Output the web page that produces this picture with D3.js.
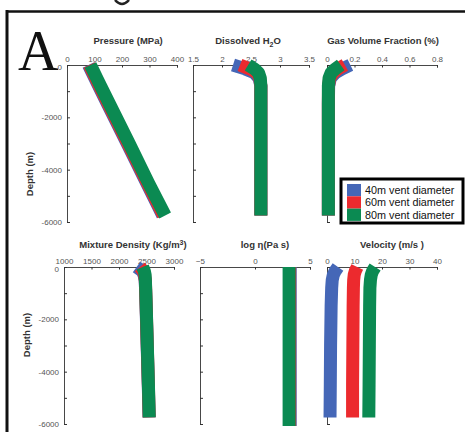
<!DOCTYPE html>
<html><head><meta charset="utf-8">
<script src="https://cdn.jsdelivr.net/npm/d3@7"></script>
<style>body{margin:0;background:#fff}svg{display:block}</style>
</head><body>
<svg id="c" width="465" height="432"></svg>
<script>
// ---------- data ----------
const depth = [0, -150, -300, -500, -800, -1500, -3000, -4500, -5750];
const depthVisc = [0, -6080];
const seriesNames = ["40m vent diameter", "60m vent diameter", "80m vent diameter"];
const seriesColors = ["#4567b7", "#ec2a2e", "#0b8a52"];

const pressure40 = [78, 85, 92, 101, 115, 148, 219, 289, 348];
const pressure60 = [81, 88, 95, 104, 118, 151, 222, 292, 351];
const pressure80 = [85, 92, 99, 108, 122, 155, 226, 296, 357];

const h2o40 = [2.19, 2.40, 2.56, 2.64, 2.67, 2.67, 2.67, 2.67, 2.67];
const h2o60 = [2.31, 2.48, 2.60, 2.65, 2.67, 2.67, 2.67, 2.67, 2.67];
const h2o80 = [2.45, 2.56, 2.63, 2.66, 2.67, 2.67, 2.67, 2.67, 2.67];

const gas40 = [0.17, 0.11, 0.06, 0.025, 0.012, 0.01, 0.01, 0.01, 0.01];
const gas60 = [0.13, 0.08, 0.045, 0.02, 0.011, 0.01, 0.01, 0.01, 0.01];
const gas80 = [0.10, 0.06, 0.03, 0.015, 0.01, 0.01, 0.01, 0.01, 0.01];

const density40 = [2320, 2420, 2455, 2475, 2482, 2492, 2512, 2532, 2547];
const density60 = [2380, 2440, 2465, 2478, 2484, 2494, 2514, 2534, 2549];
const density80 = [2430, 2460, 2475, 2480, 2485, 2495, 2515, 2535, 2550];

const visc40 = [3.2, 3.2];
const visc60 = [3.15, 3.15];
const visc80 = [3.1, 3.1];

const velocity40 = [4.0, 3.0, 2.3, 1.9, 1.7, 1.5, 1.3, 1.2, 1.1];
const velocity60 = [11.0, 10.3, 9.9, 9.7, 9.6, 9.5, 9.4, 9.3, 9.3];
const velocity80 = [17.5, 16.6, 16.1, 15.8, 15.6, 15.5, 15.4, 15.3, 15.2];

const depthTicks = [0, -1000, -2000, -3000, -4000, -5000, -6000];
const pressureTicks = [0, 100, 200, 300, 400];
const h2oTicks = [1.5, 2, 2.5, 3, 3.5];
const gasTicks = [0, 0.2, 0.4, 0.6, 0.8];
const densityTicks = [1000, 1500, 2000, 2500, 3000];
const viscTicks = [-5, 0, 5];
const velocityTicks = [0, 10, 20, 30, 40];

// ---------- drawing ----------
const svg = d3.select("#c");
const FONT = "Liberation Sans, Arial, sans-serif";

// frame
svg.append("line").attr("x1", 6).attr("x2", 465).attr("y1", 11.5).attr("y2", 11.5)
  .attr("stroke", "#111").attr("stroke-width", 2.5);
svg.append("line").attr("x1", 7).attr("x2", 7).attr("y1", 10).attr("y2", 432)
  .attr("stroke", "#111").attr("stroke-width", 3);
// cropped glyph remnant at the top edge
svg.append("path").attr("d", "M115,0 Q122,8 129,0").attr("fill", "none")
  .attr("stroke", "#222").attr("stroke-width", 2.5);

svg.append("text").attr("x", 18).attr("y", 70).attr("font-family", "Liberation Serif, Times New Roman, serif")
  .attr("font-size", 56).attr("fill", "#111").text("A");

function panel(opt) {
  const x = d3.scaleLinear().domain(opt.domain).range(opt.xr);
  const y = d3.scaleLinear().domain([0, -6000]).range(opt.yr);
  const g = svg.append("g");

  // x axis on top
  const ax = g.append("g").attr("transform", `translate(0,${opt.yr[0]})`)
    .call(d3.axisTop(x).tickValues(opt.ticks).tickSize(-2.5).tickPadding(3)
      .tickFormat(d3.format(opt.fmt || "")));
  ax.select(".domain").attr("stroke", "#333").attr("stroke-width", 0.9);
  ax.selectAll(".tick line").attr("stroke", "#333");
  ax.selectAll("text").attr("font-family", FONT).attr("font-size", 8).attr("fill", "#555");

  // y axis on left
  const ay = g.append("g").attr("transform", `translate(${opt.xr[0]},0)`)
    .call(d3.axisLeft(y).tickValues(depthTicks).tickSize(-3).tickPadding(5)
      .tickFormat(d => (opt.ylabels && d % 2000 === 0) ? d3.format("")(d).replace("−", "-") : ""));
  ay.select(".domain").attr("stroke", "#333").attr("stroke-width", 0.9);
  ay.selectAll(".tick line").attr("stroke", "#333");
  ay.selectAll("text").attr("font-family", FONT).attr("font-size", 8).attr("fill", "#555");
  ay.selectAll(".tick").filter(d => d === 0).select("text").attr("dy", "0.6em");

  // series
  const line = d3.line().x(d => x(d[1])).y(d => y(d[0]));
  opt.series.forEach((vals, i) => {
    const dep = opt.depth;
    g.append("path").datum(dep.map((dd, k) => [dd, vals[k]]))
      .attr("d", line).attr("fill", "none")
      .attr("stroke", seriesColors[i]).attr("stroke-width", 13)
      .attr("stroke-linejoin", "round").attr("stroke-linecap", "butt");
  });

  // title
  const t = g.append("text").attr("x", opt.tx).attr("y", opt.ty).attr("text-anchor", "middle")
    .attr("font-family", FONT).attr("font-weight", "bold").attr("font-size", 9.5).attr("fill", "#333");
  opt.title(t);
  return {x, y};
}

const topY = [65, 222], botY = [267, 424];

panel({domain: [0, 400], xr: [67, 177], yr: topY, ticks: pressureTicks, ylabels: true, depth: depth,
  series: [pressure40, pressure60, pressure80], tx: 128, ty: 44,
  title: t => t.text("Pressure (MPa)")});
panel({domain: [1.5, 3.5], xr: [193, 309], yr: topY, ticks: h2oTicks, depth: depth,
  series: [h2o40, h2o60, h2o80], tx: 248, ty: 44,
  title: t => { t.append("tspan").text("Dissolved H"); t.append("tspan").attr("dy", 3).attr("font-size", 7).text("2"); t.append("tspan").attr("dy", -3).text("O"); }});
panel({domain: [0, 0.8], xr: [327, 437], yr: topY, ticks: gasTicks, depth: depth,
  series: [gas40, gas60, gas80], tx: 383, ty: 44,
  title: t => t.text("Gas Volume Fraction (%)")});

panel({domain: [1000, 3000], xr: [64, 174], yr: botY, ticks: densityTicks, ylabels: true, depth: depth,
  series: [density40, density60, density80], tx: 133, ty: 248,
  title: t => { t.append("tspan").text("Mixture Density (Kg/m"); t.append("tspan").attr("dy", -3.5).attr("font-size", 7).text("3"); t.append("tspan").attr("dy", 3.5).text(")"); }});
panel({domain: [-5, 5], xr: [200, 310], yr: botY, ticks: viscTicks, depth: depthVisc,
  series: [visc40, visc60, visc80], tx: 265, ty: 248,
  title: t => t.text("log η(Pa s)")});
panel({domain: [0, 40], xr: [327, 437], yr: botY, ticks: velocityTicks, depth: depth,
  series: [velocity40, velocity60, velocity80], tx: 392, ty: 248,
  title: t => t.text("Velocity (m/s )")});

// y-axis titles
[[33, 174], [30, 335]].forEach(([x, y]) => {
  svg.append("text").attr("transform", `translate(${x},${y}) rotate(-90)`).attr("text-anchor", "middle")
    .attr("font-family", FONT).attr("font-weight", "bold").attr("font-size", 9.5).attr("fill", "#333")
    .text("Depth (m)");
});

// legend
const lg = svg.append("g");
lg.append("rect").attr("x", 341).attr("y", 179).attr("width", 122).attr("height", 44)
  .attr("fill", "#fff").attr("stroke", "#000").attr("stroke-width", 3);
seriesNames.forEach((n, i) => {
  lg.append("rect").attr("x", 347).attr("y", 184 + i * 12.3).attr("width", 14).attr("height", 12.3)
    .attr("fill", seriesColors[i]);
  lg.append("text").attr("x", 365).attr("y", 194 + i * 12.3).attr("font-family", FONT)
    .attr("font-size", 10.8).attr("fill", "#111").text(n);
});
</script>
</body></html>
